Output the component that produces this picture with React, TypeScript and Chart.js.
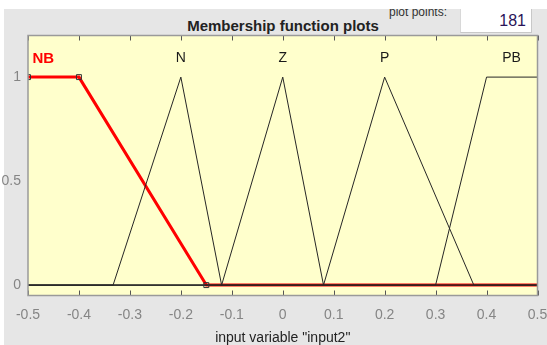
import React, { useEffect, useRef } from "react";
import { Chart, registerables } from "chart.js";

Chart.register(...registerables);

// Universe of discourse for input2 and its tick labels
const xTicks = [-0.5, -0.4, -0.3, -0.2, -0.1, 0, 0.1, 0.2, 0.3, 0.4, 0.5];
const yTicks = [0, 0.5, 1];

// Membership functions (breakpoints across the full range)
const nbX = [-0.5, -0.4, -0.15, 0.5];
const nbY = [1, 1, 0, 0];
const nX = [-0.5, -0.333, -0.2, -0.12, 0.5];
const nY = [0, 0, 1, 0, 0];
const zX = [-0.5, -0.12, 0, 0.08, 0.5];
const zY = [0, 0, 1, 0, 0];
const pX = [-0.5, 0.08, 0.2, 0.375, 0.5];
const pY = [0, 0, 1, 0, 0];
const pbX = [-0.5, 0.3, 0.4, 0.5];
const pbY = [0, 0, 1, 1];

// Parameter handles of the selected function (NB)
const handleX = [-0.5, -0.4, -0.15];
const handleY = [1, 1, 0];

// Function names and where they are written
const mfNames = ["NB", "N", "Z", "P", "PB"];
const mfLabelX = [-0.47, -0.2, 0, 0.2, 0.449];
const mfLabelY = 1.09;

const SANS = '"Liberation Sans", Arial, sans-serif';

const pts = (xs: number[], ys: number[]) => xs.map((x, i) => ({ x, y: ys[i] }));

const mfLine = (xs: number[], ys: number[]) => ({
  data: pts(xs, ys),
  showLine: true,
  borderColor: "#262626",
  borderWidth: 1,
  pointRadius: 0,
  order: 1,
});

const axesFrame = {
  id: "axesFrame",
  beforeDraw(chart: any) {
    const { ctx, chartArea: a } = chart;
    ctx.save();
    ctx.fillStyle = "#ffffcc";
    ctx.fillRect(a.left, a.top, a.right - a.left, a.bottom - a.top);
    ctx.restore();
  },
  afterDatasetsDraw(chart: any) {
    const { ctx, chartArea: a, scales } = chart;
    const xs = scales.x;
    const ys = scales.y;
    ctx.save();
    // inward tick marks on top and bottom edges
    ctx.strokeStyle = "#555";
    ctx.lineWidth = 1;
    ctx.beginPath();
    xTicks.forEach((v) => {
      const px = Math.round(xs.getPixelForValue(v)) + 0.5;
      ctx.moveTo(px, a.top);
      ctx.lineTo(px, a.top + 5);
      ctx.moveTo(px, a.bottom);
      ctx.lineTo(px, a.bottom - 5);
    });
    ctx.stroke();
    // box
    ctx.strokeStyle = "#9a9a9a";
    ctx.lineWidth = 1.5;
    ctx.strokeRect(a.left, a.top, a.right - a.left, a.bottom - a.top);
    // function names
    ctx.textAlign = "center";
    ctx.textBaseline = "middle";
    mfNames.forEach((name, i) => {
      const px = xs.getPixelForValue(mfLabelX[i]);
      const py = ys.getPixelForValue(mfLabelY);
      if (i === 0) {
        ctx.fillStyle = "#ff0000";
        ctx.font = `bold 15px ${SANS}`;
      } else {
        ctx.fillStyle = "#1a1a1a";
        ctx.font = `14px ${SANS}`;
      }
      ctx.fillText(name, px, py);
    });
    ctx.restore();
  },
};

export default function App() {
  const canvasRef = useRef<HTMLCanvasElement | null>(null);

  useEffect(() => {
    if (!canvasRef.current) return;
    const chart = new Chart(canvasRef.current, {
      type: "scatter",
      data: {
        datasets: [
          {
            data: pts(handleX, handleY),
            showLine: false,
            pointStyle: "rect",
            pointRadius: 3.5,
            borderColor: "#333",
            borderWidth: 1,
            backgroundColor: "rgba(0,0,0,0)",
            order: 0,
          } as any,
          mfLine(nX, nY),
          mfLine(zX, zY),
          mfLine(pX, pY),
          mfLine(pbX, pbY),
          {
            data: pts(nbX, nbY),
            showLine: true,
            borderColor: "#ff0000",
            borderWidth: 3,
            pointRadius: 0,
            order: 5,
          },
        ],
      },
      options: {
        responsive: false,
        animation: false,
        devicePixelRatio: 1,
        layout: { padding: { left: 0, top: 35.5, right: 9.5, bottom: 0 } },
        plugins: {
          legend: { display: false },
          tooltip: { enabled: false },
        },
        scales: {
          x: {
            type: "linear",
            min: -0.5,
            max: 0.5,
            afterBuildTicks: (s: any) => {
              s.ticks = xTicks.map((value) => ({ value }));
            },
            afterFit: (s: any) => {
              s.height = 49.5;
              s.paddingLeft = 0;
              s.paddingRight = 0;
            },
            grid: { display: false, drawTicks: false },
            border: { display: false },
            ticks: {
              color: "#858585",
              font: { size: 14, family: SANS },
              padding: 11,
              maxRotation: 0,
              autoSkip: false,
              callback: (v: any) => String(Math.round(Number(v) * 10) / 10),
            },
            title: {
              display: true,
              text: 'input variable "input2"',
              color: "#222",
              font: { size: 14, family: SANS },
              padding: { top: 0, bottom: -2 },
            },
          },
          y: {
            type: "linear",
            min: -0.05,
            max: 1.2,
            afterBuildTicks: (s: any) => {
              s.ticks = yTicks.map((value) => ({ value }));
            },
            afterFit: (s: any) => {
              s.width = 28;
              s.paddingTop = 0;
              s.paddingBottom = 0;
            },
            grid: { display: false, drawTicks: false },
            border: { display: false },
            ticks: {
              color: "#858585",
              font: { size: 14, family: SANS },
              padding: 7,
              callback: (v: any) => String(v),
            },
          },
        },
      },
      plugins: [axesFrame],
    });
    return () => chart.destroy();
  }, []);

  return (
    <div
      style={{
        position: "fixed",
        left: 0,
        top: 0,
        width: 547,
        height: 345,
        background: "#ffffff",
        overflow: "hidden",
        fontFamily: SANS,
      }}
    >
      <div
        style={{
          position: "absolute",
          left: 4,
          top: 9,
          right: 0,
          bottom: 0,
          background: "#e6e6e6",
          overflow: "hidden",
        }}
      >
        <div
          style={{
            position: "absolute",
            left: 0,
            width: 558,
            top: 8,
            textAlign: "center",
            fontWeight: "bold",
            fontSize: 15,
            color: "#222",
            lineHeight: "18px",
          }}
        >
          Membership function plots
        </div>
        <div
          style={{
            position: "absolute",
            left: 385,
            top: -4,
            fontSize: 12,
            color: "#333",
            lineHeight: "14px",
          }}
        >
          plot points:
        </div>
        <div
          style={{
            position: "absolute",
            left: 456,
            top: -1,
            width: 72,
            height: 25,
            background: "#ffffff",
            borderRight: "1px solid #c8c8c8",
            borderBottom: "1px solid #c8c8c8",
            borderLeft: "1px solid #d8d8d8",
            boxSizing: "border-box",
            textAlign: "right",
            paddingRight: 5,
            fontSize: 16,
            lineHeight: "26px",
            color: "#2a1458",
          }}
        >
          181
        </div>
      </div>
      <canvas
        ref={canvasRef}
        width={547}
        height={345}
        style={{ position: "absolute", left: 0, top: 0, width: 547, height: 345 }}
      />
    </div>
  );
}
